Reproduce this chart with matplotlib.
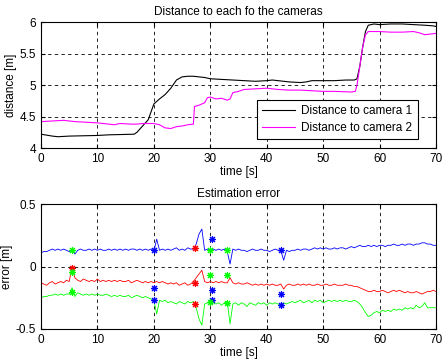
import numpy as np
import matplotlib
matplotlib.use("agg")
import matplotlib.pyplot as plt

plt.rcParams["font.family"] = ["Liberation Sans", "DejaVu Sans"]
plt.rcParams["font.size"] = 8.5

# distance to each camera
t_cam1 = [0, 2, 3, 5, 10, 12, 16.5, 17, 18, 19, 20, 21, 22, 23, 24, 25, 26, 27, 28, 29, 30, 32, 34, 36, 38,
          40, 41, 42, 44, 46, 47, 48, 50, 52, 54, 55.5, 56, 56.5, 57, 57.5, 58, 59, 60, 62, 64, 66, 68, 69.5, 70]
d_cam1 = [4.22, 4.19, 4.18, 4.19, 4.20, 4.21, 4.22, 4.25, 4.35, 4.45, 4.70, 4.78, 4.85, 4.95, 5.08, 5.13, 5.14,
          5.14, 5.13, 5.12, 5.10, 5.09, 5.08, 5.07, 5.06, 5.07, 5.08, 5.07, 5.05, 5.04, 5.05, 5.07, 5.07, 5.07,
          5.08, 5.08, 5.10, 5.30, 5.60, 5.85, 5.95, 5.97, 5.96, 5.97, 5.97, 5.96, 5.95, 5.94, 5.93]
t_cam2 = [0, 2, 4, 6, 8, 10, 12, 13, 14, 16, 17, 18, 20, 21, 22, 23, 24, 25, 26, 27, 27.2, 28, 29, 29.5, 30,
          31, 32, 33, 33.5, 34, 35, 36, 38, 40, 42, 44, 46, 48, 50, 52, 55, 55.7, 56, 56.5, 57, 57.5, 58, 60,
          62, 64, 66, 67, 68, 69, 70]
d_cam2 = [4.42, 4.43, 4.44, 4.42, 4.41, 4.40, 4.38, 4.37, 4.39, 4.38, 4.38, 4.39, 4.39, 4.37, 4.32, 4.31, 4.34,
          4.35, 4.37, 4.38, 4.66, 4.68, 4.72, 4.80, 4.81, 4.78, 4.79, 4.76, 4.78, 4.88, 4.90, 4.93, 4.94, 4.95,
          4.93, 4.92, 4.92, 4.91, 4.90, 4.90, 4.89, 4.90, 5.00, 5.30, 5.60, 5.80, 5.85, 5.85, 5.84, 5.84, 5.85,
          5.83, 5.80, 5.81, 5.82]

# estimation error, sampled every 0.5 s
t_err = np.arange(141) * 0.5
err_blue = [.11, .12, .12, .13, .14, .13, .14, .13, .14, .13,
            .12, .13, .10, .13, .14, .13, .13, .14, .13, .14,
            .13, .14, .13, .13, .14, .13, .14, .13, .14, .13,
            .14, .13, .14, .14, .13, .14, .13, .14, .13, .14,
            .12, .22, .13, .14, .13, .14, .13, .14, .15, .13,
            .14, .13, .15, .14, .14, .18, .26, .30, .13, .14,
            .13, .14, .13, .14, .13, .14, .12, .02, .14, .13,
            .14, .13, .13, .12, .13, .14, .13, .13, .14, .13,
            .13, .12, .13, .14, .13, .13, .05, .13, .12, .13,
            .13, .14, .13, .14, .14, .13, .14, .15, .14, .15,
            .14, .15, .14, .14, .15, .14, .15, .15, .14, .15,
            .16, .15, .16, .17, .16, .16, .17, .16, .17, .16,
            .17, .17, .16, .17, .17, .18, .17, .17, .18, .17,
            .18, .18, .17, .18, .18, .19, .19, .18, .18, .17,
            .17]
err_red = [-.13, -.14, -.15, -.13, -.12, -.14, -.13, -.12, -.13, -.11,
           -.12, .00, -.09, -.11, -.12, -.10, -.11, -.12, -.11, -.12,
           -.10, -.12, -.11, -.12, -.11, -.12, -.11, -.12, -.11, -.12,
           -.12, -.11, -.13, -.12, -.11, -.12, -.13, -.12, -.13, -.12,
           -.13, -.12, -.13, -.12, -.13, -.14, -.13, -.14, -.13, -.15,
           -.14, -.13, -.15, -.14, -.12, -.09, -.06, -.03, -.12, -.13,
           -.12, -.13, -.12, -.13, -.12, -.13, -.13, -.09, -.13, -.14,
           -.13, -.14, -.14, -.13, -.14, -.15, -.14, -.15, -.14, -.15,
           -.14, -.15, -.14, -.15, -.15, -.14, -.18, -.15, -.14, -.15,
           -.15, -.14, -.15, -.14, -.15, -.14, -.15, -.15, -.14, -.15,
           -.15, -.14, -.15, -.15, -.14, -.15, -.15, -.15, -.14, -.15,
           -.15, -.16, -.16, -.17, -.18, -.19, -.20, -.20, -.19, -.20,
           -.20, -.19, -.20, -.21, -.20, -.19, -.20, -.19, -.20, -.21,
           -.20, -.21, -.21, -.20, -.21, -.22, -.21, -.20, -.20, -.19,
           -.20]
err_green = [-.25, -.24, -.24, -.23, -.23, -.22, -.23, -.22, -.23, -.22,
             -.22, -.17, -.24, -.21, -.22, -.23, -.22, -.23, -.22, -.23,
             -.22, -.23, -.23, -.22, -.23, -.24, -.23, -.24, -.23, -.24,
             -.24, -.23, -.25, -.24, -.23, -.24, -.25, -.24, -.25, -.26,
             -.27, -.38, -.27, -.28, -.27, -.29, -.28, -.29, -.30, -.28,
             -.29, -.30, -.28, -.29, -.28, -.33, -.42, -.47, -.30, -.29,
             -.28, -.29, -.30, -.29, -.31, -.29, -.28, -.46, -.30, -.29,
             -.31, -.29, -.30, -.32, -.29, -.30, -.31, -.29, -.30, -.29,
             -.31, -.29, -.30, -.29, -.30, -.31, -.29, -.30, -.29, -.28,
             -.29, -.28, -.27, -.29, -.28, -.27, -.29, -.27, -.28, -.27,
             -.29, -.28, -.27, -.28, -.27, -.28, -.27, -.28, -.27, -.28,
             -.28, -.27, -.28, -.30, -.33, -.37, -.40, -.39, -.37, -.36,
             -.37, -.35, -.36, -.35, -.36, -.34, -.35, -.34, -.35, -.33,
             -.34, -.33, -.34, -.31, -.33, -.32, -.29, -.33, -.33, -.33,
             -.33]

# detection markers
mk_blue_t = [20, 30.3, 42.5, 20, 20, 30.3, 30.3, 42.5, 42.5]
mk_blue_v = [0.13, 0.22, 0.13, -0.17, -0.27, -0.19, -0.27, -0.22, -0.31]
mk_red_t = [27.3, 5.5, 27.3, 27.3]
mk_red_v = [0.15, -0.01, -0.13, -0.30]
mk_green_t = [5.5, 30, 33, 5.5, 30, 33, 5.5, 30, 33]
mk_green_v = [0.13, 0.13, 0.13, -0.04, -0.07, -0.07, -0.20, -0.28, -0.29]

fig = plt.figure(figsize=(4.43, 3.62), dpi=100)
ax1 = fig.add_axes([0.0926, 0.591, 0.8916, 0.348])
ax2 = fig.add_axes([0.0926, 0.0912, 0.8916, 0.345])

for ax in (ax1, ax2):
    ax.grid(True, color="k", linestyle=(0, (4, 4)), linewidth=0.6)
    ax.tick_params(direction="in", length=3, top=True, right=True, labelsize=8.5)
    ax.set_xlim(0, 70)
    ax.set_xticks(np.arange(0, 71, 10))
    ax.set_xlabel("time [s]", labelpad=1)

ax1.plot(t_cam1, d_cam1, color="k", linewidth=0.8, label="Distance to camera 1")
ax1.plot(t_cam2, d_cam2, color="#ff00ff", linewidth=0.8, label="Distance to camera 2")
ax1.set_ylim(4, 6)
ax1.set_yticks([4, 4.5, 5, 5.5, 6])
ax1.set_yticklabels(["4", "4.5", "5", "5.5", "6"])
ax1.set_ylabel("distance [m]", labelpad=2)
ax1.set_title("Distance to each fo the cameras", fontsize=8.5, pad=5)
leg = ax1.legend(loc="lower right", bbox_to_anchor=(0.954, 0.071), borderaxespad=0,
                 fancybox=False, framealpha=1, edgecolor="k", handlelength=2.8,
                 handletextpad=0.5, labelspacing=0.4, borderpad=0.45, fontsize=8.5)
leg.get_frame().set_linewidth(0.8)

ax2.plot(t_err, err_blue, color="#0000ff", linewidth=0.6)
ax2.plot(t_err, err_red, color="#ff0000", linewidth=0.6)
ax2.plot(t_err, err_green, color="#00ff00", linewidth=0.6)
star = (8, 2, 0)
ax2.plot(mk_blue_t, mk_blue_v, linestyle="none", marker=star, color="#0000ff", markersize=5, markeredgewidth=0.8)
ax2.plot(mk_red_t, mk_red_v, linestyle="none", marker=star, color="#ff0000", markersize=5, markeredgewidth=0.8)
ax2.plot(mk_green_t, mk_green_v, linestyle="none", marker=star, color="#00ff00", markersize=5, markeredgewidth=0.8)
ax2.set_ylim(-0.5, 0.5)
ax2.set_yticks([-0.5, 0, 0.5])
ax2.set_yticklabels(["-0.5", "0", "0.5"])
ax2.set_ylabel("error [m]", labelpad=2)
ax2.set_title("Estimation error", fontsize=8.5, pad=5)

fig.savefig("out.png", dpi=100)
